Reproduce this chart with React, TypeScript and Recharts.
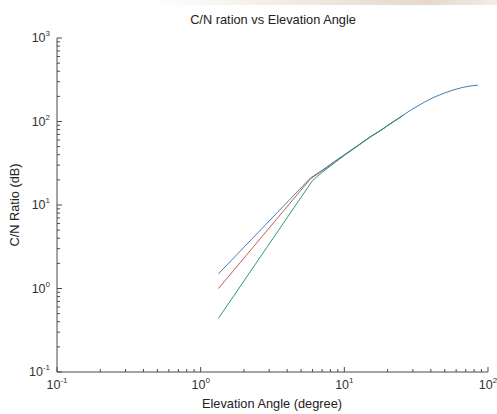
import { CartesianGrid, Line, LineChart, XAxis, YAxis } from "recharts";

const W = 497;
const H = 414;
const AXIS = "#4a4a4a";
const FONT = "'Liberation Sans', Arial, sans-serif";

// elevation angle (deg) and C/N values
const startAngle = 1.33;
const commonAngles = [5.8, 7, 8.5, 10, 12.5, 15, 18, 22, 26, 30, 36, 42, 50, 58, 66, 75, 85];
const commonCN = [21, 26, 33, 40, 52, 65, 79, 100, 121, 142, 170, 195, 220, 240, 255, 266, 272];

const blueStart = 1.5;
const redStart = 1.0;
const redAngles = [5.8, 7, 8.5, 10, 12.5, 15, 18, 22, 26];
const redCN = [20.5, 25.6, 32.6, 39.7, 51.8, 64.6, 78.8, 99.6, 120];
const greenStart = 0.44;
const greenAngles = [6.0, 7, 8.5, 10, 12.5, 15, 18, 22, 25];
const greenCN = [19.6, 24.6, 31.8, 39.2, 51.4, 64.4, 78.6, 99.4, 115];

const xMajor = [0.1, 1, 10, 100];
const xExp = ["-1", "0", "1", "2"];
const yMajor = [0.1, 1, 10, 100, 1000];
const yExp = ["-1", "0", "1", "2", "3"];
const mantissas = [1, 2, 3, 4, 5, 6, 7, 8, 9];

const xTicks = [0.1, 1, 10].flatMap((d) => mantissas.map((m) => +(d * m).toPrecision(3))).concat([100]);
const yTicks = [0.1, 1, 10, 100].flatMap((d) => mantissas.map((m) => +(d * m).toPrecision(3))).concat([1000]);

const blueData = [{ x: startAngle, y: blueStart }].concat(commonAngles.map((x, i) => ({ x, y: commonCN[i] })));
const redData = [{ x: startAngle, y: redStart }].concat(redAngles.map((x, i) => ({ x, y: redCN[i] })));
const greenData = [{ x: startAngle, y: greenStart }].concat(greenAngles.map((x, i) => ({ x, y: greenCN[i] })));

function XTick(props: any) {
  const { x, y, payload } = props;
  const idx = xMajor.indexOf(payload.value);
  const major = idx >= 0;
  return (
    <g>
      <line x1={x} x2={x} y1={y} y2={y - (major ? 5 : 3)} stroke={AXIS} />
      {major && (
        <text x={x} y={y + 17} textAnchor="middle" fontSize={12.5} fill="#333" fontFamily={FONT}>
          10
          <tspan dy={-6} fontSize={8}>
            {xExp[idx]}
          </tspan>
        </text>
      )}
    </g>
  );
}

function YTick(props: any) {
  const { x, y, payload } = props;
  const idx = yMajor.indexOf(payload.value);
  const major = idx >= 0;
  return (
    <g>
      <line x1={x} x2={x + (major ? 5 : 3)} y1={y} y2={y} stroke={AXIS} />
      {major && (
        <text x={x - 7} y={y + 4} textAnchor="end" fontSize={12.5} fill="#333" fontFamily={FONT}>
          10
          <tspan dy={-6} fontSize={8}>
            {yExp[idx]}
          </tspan>
        </text>
      )}
    </g>
  );
}

export default function App() {
  return (
    <div style={{ position: "absolute", left: 0, top: 0, width: W, height: H, background: "#fff" }}>
      <div
        style={{
          position: "absolute",
          left: 150,
          top: 0,
          width: W - 150,
          height: 5,
          background: "linear-gradient(90deg, rgba(255,255,255,0), #efe6dc 50%, #e6d8cc 80%, #f3ece6)",
        }}
      />
      <LineChart width={W} height={H} margin={{ top: 38, right: 9, left: 0, bottom: 0 }}>
        <CartesianGrid stroke="none" />
        <text x={273} y={24} textAnchor="middle" fontSize={12.8} fill="#222" fontFamily={FONT}>
          C/N ration vs Elevation Angle
        </text>
        <text x={272} y={408} textAnchor="middle" fontSize={12.8} fill="#222" fontFamily={FONT}>
          Elevation Angle (degree)
        </text>
        <text
          x={19}
          y={205}
          textAnchor="middle"
          fontSize={12.8}
          fill="#222"
          fontFamily={FONT}
          transform="rotate(-90 19 205)"
        >
          C/N Ratio (dB)
        </text>
        <XAxis
          dataKey="x"
          type="number"
          scale="log"
          domain={[0.1, 100]}
          allowDataOverflow
          ticks={xTicks}
          interval={0}
          tick={<XTick />}
          tickLine={false}
          tickSize={0}
          tickMargin={0}
          height={42}
          stroke={AXIS}
        />
        <YAxis
          dataKey="y"
          type="number"
          scale="log"
          domain={[0.1, 1000]}
          allowDataOverflow
          ticks={yTicks}
          interval={0}
          tick={<YTick />}
          tickLine={false}
          tickSize={0}
          tickMargin={0}
          width={57}
          stroke={AXIS}
        />
        <Line data={redData} dataKey="y" stroke="#c65a55" strokeWidth={1} dot={false} isAnimationActive={false} />
        <Line data={blueData} dataKey="y" stroke="#3f80bb" strokeWidth={1} dot={false} isAnimationActive={false} />
        <Line data={greenData} dataKey="y" stroke="#2f9a6c" strokeWidth={1} dot={false} isAnimationActive={false} />
      </LineChart>
    </div>
  );
}
